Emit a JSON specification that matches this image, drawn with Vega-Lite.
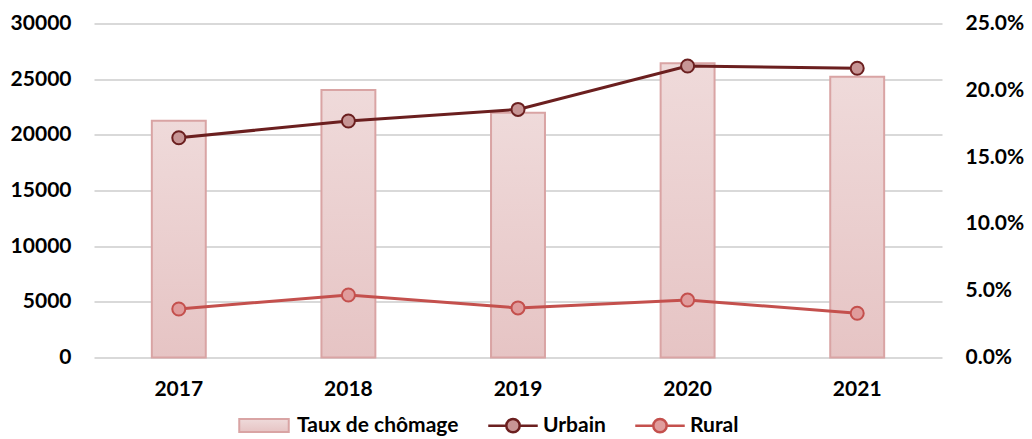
{
  "$schema": "https://vega.github.io/schema/vega-lite/v6.json",
  "autosize": {"type": "none"},
  "width": 848,
  "height": 334,
  "padding": {"left": 94, "top": 23.5, "right": 90, "bottom": 81.5},
  "background": "white",
  "config": {
    "view": {"stroke": null},
    "font": "Lato",
    "axis": {"labelFont": "Lato", "labelFontSize": 21, "labelFontWeight": "bold", "labelColor": "#000000", "domain": false, "ticks": false, "title": null},
    "legend": {"labelFont": "Lato", "labelFontSize": 21, "labelFontWeight": "bold", "labelColor": "#000000", "labelLimit": 400}
  },
  "datasets": {
    "bars": [
      {"annee": "2017", "valeur": 21270, "serie": "Taux de chômage"},
      {"annee": "2018", "valeur": 24030, "serie": "Taux de chômage"},
      {"annee": "2019", "valeur": 21990, "serie": "Taux de chômage"},
      {"annee": "2020", "valeur": 26425, "serie": "Taux de chômage"},
      {"annee": "2021", "valeur": 25220, "serie": "Taux de chômage"}
    ],
    "lignes": [
      {"annee": "2017", "serie": "Urbain", "taux": 0.1645},
      {"annee": "2018", "serie": "Urbain", "taux": 0.177},
      {"annee": "2019", "serie": "Urbain", "taux": 0.1857},
      {"annee": "2020", "serie": "Urbain", "taux": 0.2182},
      {"annee": "2021", "serie": "Urbain", "taux": 0.2165},
      {"annee": "2017", "serie": "Rural", "taux": 0.0363},
      {"annee": "2018", "serie": "Rural", "taux": 0.0468},
      {"annee": "2019", "serie": "Rural", "taux": 0.0371},
      {"annee": "2020", "serie": "Rural", "taux": 0.043},
      {"annee": "2021", "serie": "Rural", "taux": 0.0331}
    ]
  },
  "encoding": {
    "x": {
      "field": "annee", "type": "ordinal",
      "scale": {"paddingInner": 0.682, "paddingOuter": 0.341},
      "axis": {"labelAngle": 0, "labelPadding": 21, "grid": false}
    }
  },
  "layer": [
    {
      "data": {"name": "bars"},
      "mark": {
        "type": "bar",
        "strokeWidth": 2,
        "fill": {"gradient": "linear", "x1": 0, "y1": 0, "x2": 0, "y2": 1,
          "stops": [{"offset": 0, "color": "#efdada"}, {"offset": 1, "color": "#e6c4c4"}]}
      },
      "encoding": {
        "y": {
          "field": "valeur", "type": "quantitative",
          "scale": {"domain": [0, 30000], "nice": false},
          "axis": {"values": [0, 5000, 10000, 15000, 20000, 25000, 30000], "format": "d", "labelPadding": 23, "grid": true, "gridColor": "#d9d9d9", "gridWidth": 1.8}
        },
        "stroke": {
          "field": "serie", "type": "nominal",
          "scale": {"domain": ["Taux de chômage"], "range": ["#d9a4a4"]},
          "legend": {
            "title": null, "orient": "none", "legendX": 144, "legendY": 376,
            "symbolType": "M-1,-0.26H1V0.26H-1Z", "symbolSize": 2450,
            "symbolFillColor": "#ecd2d2", "symbolStrokeWidth": 2, "labelOffset": 7
          }
        }
      }
    },
    {
      "data": {"name": "lignes"},
      "mark": {"type": "line", "strokeWidth": 3},
      "encoding": {
        "y": {
          "field": "taux", "type": "quantitative",
          "scale": {"domain": [0, 0.25], "nice": false},
          "axis": {"orient": "right", "values": [0, 0.05, 0.1, 0.15, 0.2, 0.25], "format": ".1%", "labelPadding": 23, "grid": false}
        },
        "color": {
          "field": "serie", "type": "nominal",
          "scale": {"domain": ["Urbain", "Rural"], "range": ["#6b1f1f", "#c4504d"]},
          "legend": {
            "title": null, "orient": "none", "legendX": 393, "legendY": 376,
            "direction": "horizontal", "columns": 2, "columnPadding": 24,
            "symbolType": "M-1,0H-0.27M0.27,0H1M-0.27,0A0.27,0.27,0,1,1,0.27,0A0.27,0.27,0,1,1,-0.27,0Z",
            "symbolSize": 2450, "symbolFillColor": "#d49c9c", "symbolStrokeWidth": 2.5, "labelOffset": 4
          }
        }
      }
    },
    {
      "data": {"name": "lignes"},
      "mark": {"type": "point", "shape": "circle", "filled": false, "size": 170, "strokeWidth": 2, "opacity": 1},
      "encoding": {
        "y": {"field": "taux", "type": "quantitative", "scale": {"domain": [0, 0.25], "nice": false}, "axis": null},
        "color": {"field": "serie", "type": "nominal", "scale": {"domain": ["Urbain", "Rural"], "range": ["#6b1f1f", "#c4504d"]}, "legend": null},
        "fill": {"field": "serie", "type": "nominal", "scale": {"domain": ["Urbain", "Rural"], "range": ["#c79595", "#e09c9c"]}, "legend": null}
      }
    }
  ],
  "resolve": {"scale": {"y": "independent", "stroke": "independent", "color": "shared"}}
}
